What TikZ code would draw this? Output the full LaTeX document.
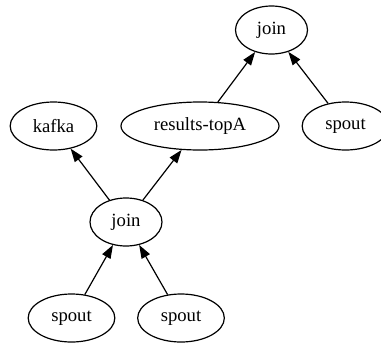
\documentclass[tikz,border=0pt]{standalone}
\usepackage{fontspec}
\setmainfont{Liberation Serif}
\usetikzlibrary{shapes.geometric,arrows.meta}
\begin{document}
\begin{tikzpicture}[x=0.75pt,y=-0.75pt,
  gnode/.style={draw,ellipse,line width=0.9pt,inner sep=0pt,
    minimum height=36pt,font=\fontsize{14pt}{16pt}\selectfont},
  small/.style={gnode,minimum width=54pt},
  mid/.style={gnode,minimum width=65pt},
  wide/.style={gnode,minimum width=118.5pt},
  edge/.style={line width=0.9pt,-{Triangle[length=10pt,width=7pt]}}]
\useasboundingbox (0,0) rectangle (381,343);
% top rank
\node[small] (join1) at (271.5,30) {\makebox[0pt]{join}};
% second rank
\node[mid]  (kafka)   at (53.5,126)  {\makebox[0pt]{kafka}};
\node[wide] (results) at (200,126)   {\makebox[0pt]{results-topA}};
\node[mid]  (spout1)  at (345.5,126) {\makebox[0pt]{spout}};
% third rank
\node[small] (join2) at (126,222) {\makebox[0pt]{join}};
% bottom rank
\node[mid] (spout2) at (71.5,318) {\makebox[0pt]{spout}};
\node[mid] (spout3) at (181,318)  {\makebox[0pt]{spout}};
% edges
\draw[edge] (results) -- (join1);
\draw[edge] (spout1) -- (join1);
\draw[edge] (join2) -- (kafka);
\draw[edge] (join2) -- (results);
\draw[edge] (spout2) -- (join2);
\draw[edge] (spout3) -- (join2);
\end{tikzpicture}
\end{document}
